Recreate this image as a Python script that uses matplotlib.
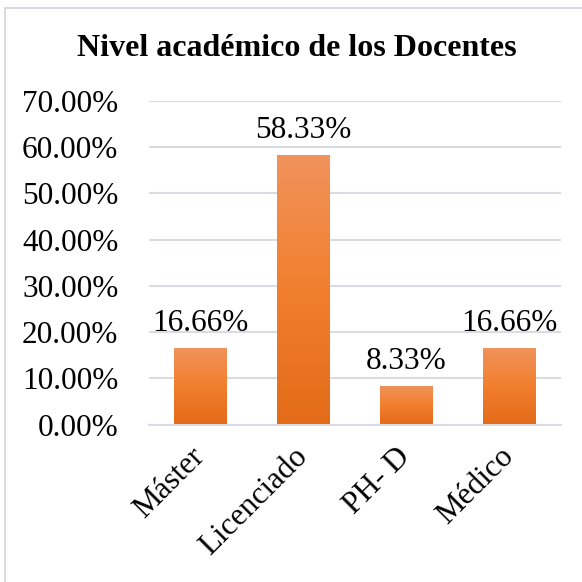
import numpy as np
import matplotlib.pyplot as plt
from matplotlib.colors import LinearSegmentedColormap
from matplotlib.patches import Rectangle
from matplotlib.ticker import PercentFormatter

categories = ['Máster', 'Licenciado', 'PH- D', 'Médico']
values = [0.1666, 0.5833, 0.0833, 0.1666]
labels = ['16.66%', '58.33%', '8.33%', '16.66%']
title = 'Nivel académico de los Docentes'

plt.rcParams['font.family'] = 'serif'
plt.rcParams['font.serif'] = ['Liberation Serif', 'DejaVu Serif']

W = 582
fig = plt.figure(figsize=(5.82, 5.82), dpi=100)
ax = fig.add_axes([149 / W, 1 - 424.5 / W, (560.5 - 149) / W, (424.5 - 101) / W])

# light frame around the chart area
fig.patches.append(Rectangle((5 / W, -0.05), 1.1, 1 - 8 / W + 0.05,
                             transform=fig.transFigure, fill=False,
                             edgecolor='#D9DDE3', linewidth=1.5))

x = np.arange(len(categories))
bars = ax.bar(x, values, width=0.515, color='none', zorder=3)

cmap = LinearSegmentedColormap.from_list('orange_grad', ['#E36B1A', '#F27F2E', '#F0935C'])
grad = np.linspace(0, 1, 256).reshape(-1, 1)
for b in bars:
    x0, y0 = b.get_x(), b.get_y()
    w, h = b.get_width(), b.get_height()
    im = ax.imshow(grad, cmap=cmap, origin='lower', aspect='auto',
                   extent=(x0, x0 + w, y0, y0 + h), zorder=3)
    im.set_clip_path(b)

for xi, v, lab in zip(x, values, labels):
    ax.annotate(lab, (xi, v), xytext=(0, 7), textcoords='offset points',
                ha='center', va='bottom', fontsize=22.5)

ax.set_xlim(-0.5, len(categories) - 0.5)
ax.set_ylim(0, 0.7)
ax.set_yticks(np.arange(0, 0.71, 0.1))
ax.yaxis.set_major_formatter(PercentFormatter(1.0, decimals=2))
ax.set_xticks(x)
ax.set_xticklabels(categories, rotation=45, ha='right', va='center',
                   rotation_mode='anchor', fontsize=22.5)
ax.tick_params(axis='y', labelsize=22.5, length=0, pad=22)
ax.tick_params(axis='x', length=0, pad=20)
ax.grid(axis='y', color='#D9DDE3', linewidth=1.5, zorder=0)
for s in ['top', 'right', 'left']:
    ax.spines[s].set_visible(False)
ax.spines['bottom'].set_color('#D9DDE3')
ax.spines['bottom'].set_linewidth(1.5)

fig.text(297 / W, 1 - 49 / W, title, ha='center', va='center',
         fontsize=23, fontweight='bold')

fig.savefig('out.png', dpi=100)
